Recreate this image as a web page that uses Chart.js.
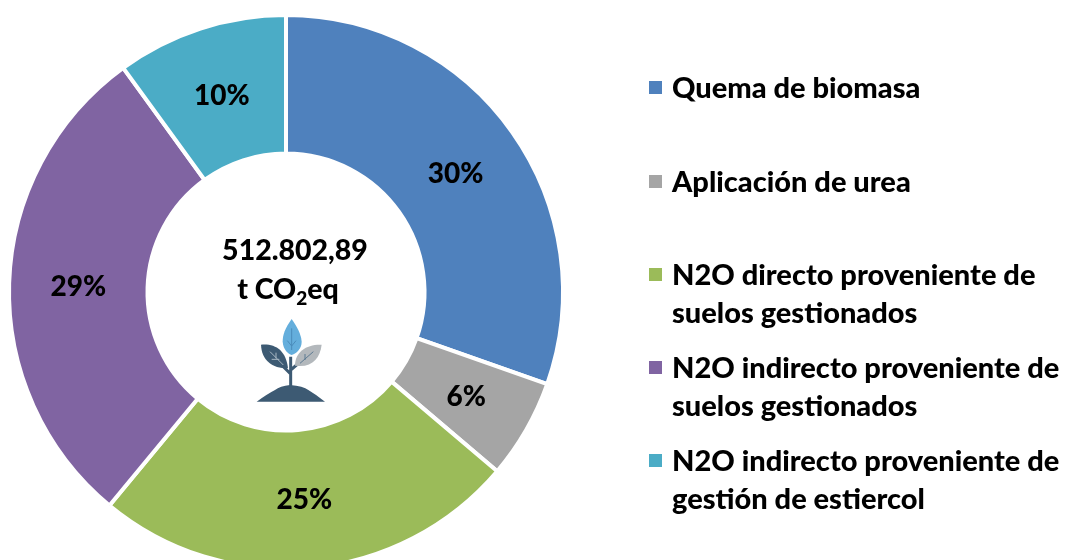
<!DOCTYPE html>
<html><head><meta charset="utf-8">
<style>
html,body{margin:0;padding:0;width:1066px;height:560px;overflow:hidden;background:#fff}
#wrap{position:relative;width:1066px;height:560px;overflow:hidden;font-family:Lato,sans-serif;font-weight:900;color:#000}
canvas{position:absolute;left:0;top:0}
.c{position:absolute;white-space:nowrap;font-size:28.5px;line-height:38px;transform:translateX(-50%)}
.c sub{font-size:19px;line-height:0;vertical-align:-6px}
.lg{position:absolute;left:649px}
.sw{position:absolute;left:0;top:13px;width:13px;height:13px}
.tx{position:absolute;left:23px;top:0;white-space:nowrap;font-size:29px;line-height:38px}
svg{position:absolute;left:200px;top:220px}
</style></head><body>
<div id="wrap">
<canvas id="ch" width="1066" height="582"></canvas>
<div class="c" style="left:295px;top:230px">512.802,89</div>
<div class="c" style="left:288px;top:269px">t CO<sub>2</sub>eq</div>
<svg width="180" height="190" viewBox="0 0 540 570">
<path d="M170 545 Q205 520 225 510 Q240 498 270 495 Q310 498 325 510 Q350 525 375 545Z" fill="#3d5a73"/>
<path d="M272 500V410M272 462L235 425M272 450L305 422" stroke="#3d5a73" stroke-width="9" fill="none"/>
<path d="M183 374C225 370 258 390 264 445C215 445 185 420 183 374Z" fill="#3d5a73"/>
<path d="M365 374C320 372 285 395 285 437C335 445 360 415 365 374Z" fill="#b3b8bc"/>
<path d="M275 297C255 325 248 345 248 365C250 390 265 402 275 405C290 400 305 385 305 365C303 340 290 320 275 297Z" fill="#64aedc"/>
<path d="M210 395L250 435M228 398V415M215 418H238" stroke="#a9b8c4" stroke-width="3" fill="none"/>
<path d="M340 395L300 430M315 402V420" stroke="#5d7a92" stroke-width="3" fill="none"/>
<path d="M275 325V390M262 362L275 378L288 362" stroke="#4a8cbb" stroke-width="3" fill="none"/>
</svg>
<div id="legend"></div>
</div>
<script src="https://cdn.jsdelivr.net/npm/chart.js@4"></script>
<script>
const categories = ["Quema de biomasa","Aplicación de urea","N2O directo proveniente de suelos gestionados","N2O indirecto proveniente de suelos gestionados","N2O indirecto proveniente de gestión de estiercol"];
const legendLines = [["Quema de biomasa"],["Aplicación de urea"],["N2O directo proveniente de","suelos gestionados"],["N2O indirecto proveniente de","suelos gestionados"],["N2O indirecto proveniente de","gestión de estiercol"]];
const shares = [30.4,5.8,24.8,29.0,10.0];
const percentLabels = ["30%","6%","25%","29%","10%"];
const colors = ["#4F81BD","#A5A5A5","#9BBB59","#8064A2","#4BACC6"];
const legendTops = [68,162,255,348,441];

const sliceLabels = {
  id:'sliceLabels',
  afterDatasetsDraw(chart){
    const ctx = chart.ctx, arcs = chart.getDatasetMeta(0).data;
    ctx.save();
    ctx.font = '900 28px Lato, sans-serif';
    ctx.fillStyle = '#000';
    ctx.textAlign = 'center';
    ctx.textBaseline = 'middle';
    arcs.forEach((a,i)=>{
      const p = a.tooltipPosition();
      ctx.fillText(percentLabels[i], p.x, p.y + 1.5);
    });
    ctx.restore();
  }
};

new Chart(document.getElementById('ch'),{
  type:'doughnut',
  data:{labels:categories,datasets:[{data:shares,backgroundColor:colors,borderColor:'#fff',borderWidth:4}]},
  options:{
    responsive:false,animation:false,cutout:'50%',
    layout:{padding:{left:7,right:501,top:13,bottom:11}},
    plugins:{legend:{display:false},tooltip:{enabled:false}}
  },
  plugins:[sliceLabels]
});

const lg = document.getElementById('legend');
legendLines.forEach((lines,i)=>{
  const d = document.createElement('div');
  d.className='lg'; d.style.top=legendTops[i]+'px';
  d.innerHTML = `<div class="sw" style="background:${colors[i]}"></div><div class="tx">${lines.join('<br>')}</div>`;
  lg.appendChild(d);
});
</script>
</body></html>
